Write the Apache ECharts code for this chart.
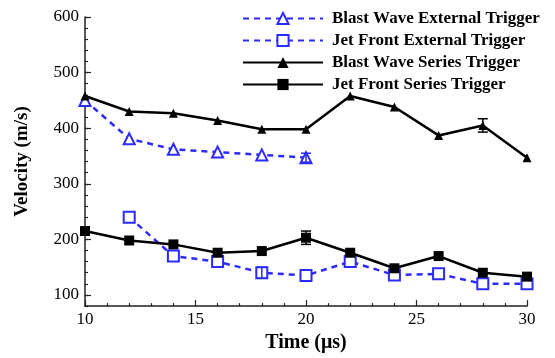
<!DOCTYPE html>
<html>
<head>
<meta charset="utf-8">
<script src="https://cdn.jsdelivr.net/npm/echarts@6/dist/echarts.min.js"></script>
<style>
  html, body { margin: 0; padding: 0; background: #fff; }
  #chart { width: 555px; height: 358px; }
</style>
</head>
<body>
<div id="chart"></div>
<script>
// time (us)
const timeExt = [10, 12, 14, 16, 18, 20]
const timeJetExt = [12, 14, 16, 18, 20, 22, 24, 26, 28, 30]
const timeSeries = [10, 12, 14, 16, 18, 20, 22, 24, 26, 28, 30]

// velocity (m/s)
const blastExternal = [450, 381, 362, 357, 352, 347]
const jetExternal = [240, 170, 160, 140, 135, 160, 136, 138, 120, 120]
const blastSeries = [458, 430, 427, 414, 398, 398, 458, 438, 387, 405, 347]
const jetSeries = [215, 198, 191, 176, 179, 203, 176, 148, 170, 140, 133]

// error bars: [time, value, half-range]
const blastExternalErr = [[20, 347, 8]]
const jetExternalErr = [[18, 140, 10]]
const blastSeriesErr = [[28, 405, 12]]
const jetSeriesErr = [[20, 203, 12]]

const yMajor = [100, 200, 300, 400, 500, 600]

const blue = '#2b2bff'
const black = '#000'
const serif = '"Liberation Serif", "DejaVu Serif", serif'

const pairs = (xs, ys) => xs.map((x, i) => [x, ys[i]])

const errSeries = (data, color) => ({
  type: 'custom',
  data: data,
  z: 5,
  renderItem(params, api) {
    const x = api.value(0)
    const y = api.value(1)
    const e = api.value(2)
    const top = api.coord([x, y + e])
    const bot = api.coord([x, y - e])
    const w = 5
    const style = { stroke: color, lineWidth: 1.5 }
    return {
      type: 'group',
      children: [
        { type: 'line', shape: { x1: top[0], y1: top[1], x2: bot[0], y2: bot[1] }, style },
        { type: 'line', shape: { x1: top[0] - w, y1: top[1], x2: top[0] + w, y2: top[1] }, style },
        { type: 'line', shape: { x1: bot[0] - w, y1: bot[1], x2: bot[0] + w, y2: bot[1] }, style },
      ],
    }
  },
})

const ec = echarts.init(document.getElementById('chart'))
ec.setOption({
  animation: false,
  grid: { left: 85, right: 28, top: 17, bottom: 48 },
  legend: {
    left: 238,
    top: 6,
    padding: 4,
    orient: 'vertical',
    itemWidth: 80,
    itemHeight: 14,
    itemGap: 5,
    textStyle: {
      fontFamily: serif, fontWeight: 'bold', fontSize: 17, lineHeight: 16,
      color: '#000', padding: [0, 0, 0, 4],
    },
    data: [
      'Blast Wave External Trigger',
      'Jet Front External Trigger',
      'Blast Wave Series Trigger',
      'Jet Front Series Trigger',
    ],
  },
  xAxis: {
    type: 'value',
    min: 10,
    max: 30,
    interval: 5,
    name: 'Time (μs)',
    nameLocation: 'middle',
    nameGap: 25,
    nameTextStyle: { fontFamily: serif, fontWeight: 'bold', fontSize: 20, color: '#000' },
    axisLine: { lineStyle: { color: '#222', width: 1.5 } },
    axisTick: { inside: true, length: 6, lineStyle: { color: '#222', width: 1.2 } },
    minorTick: { show: true, splitNumber: 5, length: 3, lineStyle: { color: '#222', width: 1.2 } },
    axisLabel: { fontFamily: serif, fontSize: 17, color: '#000', margin: 5 },
    splitLine: { show: false },
  },
  yAxis: [
    {
      type: 'value',
      min: 80,
      max: 600,
      name: 'Velocity (m/s)',
      nameLocation: 'middle',
      nameGap: 53,
      nameTextStyle: { fontFamily: serif, fontWeight: 'bold', fontSize: 19, color: '#000' },
      axisLine: { show: true, lineStyle: { color: '#222', width: 1.5 } },
      axisTick: { inside: true, length: 6, customValues: yMajor, lineStyle: { color: '#222', width: 1.2 } },
      axisLabel: { customValues: yMajor, fontFamily: serif, fontSize: 17, color: '#000', margin: 6 },
      splitLine: { show: false },
    },
    {
      // minor ticks only
      type: 'value',
      position: 'left',
      min: 80,
      max: 600,
      interval: 20,
      axisLine: { show: false },
      axisTick: { inside: true, length: 3, lineStyle: { color: '#222', width: 1.2 } },
      axisLabel: { show: false },
      splitLine: { show: false },
    },
  ],
  series: [
    {
      name: 'Blast Wave External Trigger',
      type: 'line',
      data: pairs(timeExt, blastExternal),
      symbol: 'triangle',
      symbolSize: 11,
      lineStyle: { color: blue, width: 2.5, type: [6, 5] },
      itemStyle: { color: '#fff', borderColor: blue, borderWidth: 2 },
      z: 3,
    },
    {
      name: 'Jet Front External Trigger',
      type: 'line',
      data: pairs(timeJetExt, jetExternal),
      symbol: 'rect',
      symbolSize: 11,
      lineStyle: { color: blue, width: 2.5, type: [6, 5] },
      itemStyle: { color: '#fff', borderColor: blue, borderWidth: 2 },
      z: 3,
    },
    {
      name: 'Blast Wave Series Trigger',
      type: 'line',
      data: pairs(timeSeries, blastSeries),
      symbol: 'triangle',
      symbolSize: 9,
      lineStyle: { color: black, width: 2.5 },
      itemStyle: { color: black },
      z: 4,
    },
    {
      name: 'Jet Front Series Trigger',
      type: 'line',
      data: pairs(timeSeries, jetSeries),
      symbol: 'rect',
      symbolSize: 10,
      lineStyle: { color: black, width: 2.5 },
      itemStyle: { color: black },
      z: 4,
    },
    errSeries(blastExternalErr, blue),
    errSeries(jetExternalErr, blue),
    errSeries(blastSeriesErr, black),
    errSeries(jetSeriesErr, black),
  ],
})
</script>
</body>
</html>
